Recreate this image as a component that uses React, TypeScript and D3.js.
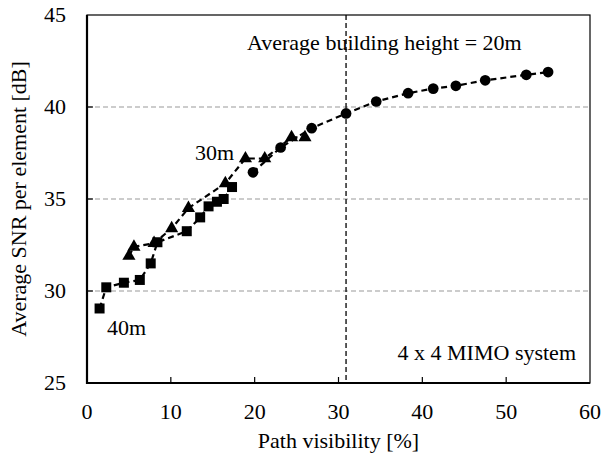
import * as d3 from "d3";
import React, { useEffect, useRef } from "react";

// 40m (squares)
const sqX = [1.5, 2.3, 4.4, 6.3, 7.6, 8.4, 11.9, 13.5, 14.5, 15.5, 16.3, 17.3];
const sqY = [29.05, 30.2, 30.45, 30.6, 31.5, 32.65, 33.25, 34.0, 34.6, 34.85, 35.0, 35.65];
// 30m (triangles)
const triX = [5.0, 5.6, 8.0, 10.1, 12.1, 16.5, 18.9, 21.2, 24.4, 26.0];
const triY = [31.9, 32.4, 32.6, 33.4, 34.5, 35.85, 37.2, 37.2, 38.35, 38.35];
// 20m (circles)
const cirX = [19.8, 23.1, 26.8, 30.9, 34.5, 38.3, 41.3, 44.0, 47.5, 52.4, 55.0];
const cirY = [36.45, 37.8, 38.85, 39.65, 40.3, 40.75, 41.0, 41.15, 41.45, 41.75, 41.9];

const xTicks = [0, 10, 20, 30, 40, 50, 60];
const yTicks = [25, 30, 35, 40, 45];
const gridY = [30, 35, 40];
const visLine = 30.9;

const W = 612;
const H = 461;
const margin = { top: 15, right: 22, bottom: 78, left: 87 };

export default function App() {
  const svgRef = useRef<SVGSVGElement>(null);

  useEffect(() => {
    if (!svgRef.current) return;
    const svg = d3.select(svgRef.current);
    svg.selectAll("*").remove();

    const iw = W - margin.left - margin.right;
    const ih = H - margin.top - margin.bottom;
    const x = d3.scaleLinear().domain([0, 60]).range([margin.left, margin.left + iw]);
    const y = d3.scaleLinear().domain([25, 45]).range([margin.top + ih, margin.top]);
    const font = "'Liberation Serif', 'Times New Roman', serif";
    const fs = "22px";

    // grid
    svg
      .append("g")
      .selectAll("line")
      .data(gridY)
      .enter()
      .append("line")
      .attr("x1", x(0))
      .attr("x2", x(60))
      .attr("y1", (d) => y(d))
      .attr("y2", (d) => y(d))
      .attr("stroke", "#999")
      .attr("stroke-width", 1.2)
      .attr("stroke-dasharray", "5,3");

    // vertical marker
    svg
      .append("line")
      .attr("x1", x(visLine))
      .attr("x2", x(visLine))
      .attr("y1", y(45))
      .attr("y2", y(25))
      .attr("stroke", "#000")
      .attr("stroke-width", 1.3)
      .attr("stroke-dasharray", "5,3");

    // frame
    svg
      .append("rect")
      .attr("x", x(0))
      .attr("y", y(45))
      .attr("width", iw)
      .attr("height", ih)
      .attr("fill", "none")
      .attr("stroke", "#000")
      .attr("stroke-width", 1.2);
    svg
      .append("path")
      .attr("d", `M${x(0)},${y(45)}V${y(25)}H${x(60)}`)
      .attr("fill", "none")
      .attr("stroke", "#000")
      .attr("stroke-width", 2.2);

    // ticks inward
    svg
      .append("g")
      .selectAll("line")
      .data(xTicks.slice(1, -1))
      .enter()
      .append("line")
      .attr("x1", (d) => x(d))
      .attr("x2", (d) => x(d))
      .attr("y1", y(25))
      .attr("y2", y(25) - 6)
      .attr("stroke", "#000")
      .attr("stroke-width", 1.2);
    svg
      .append("g")
      .selectAll("line")
      .data(yTicks.slice(1, -1))
      .enter()
      .append("line")
      .attr("x1", x(0))
      .attr("x2", x(0) + 6)
      .attr("y1", (d) => y(d))
      .attr("y2", (d) => y(d))
      .attr("stroke", "#000")
      .attr("stroke-width", 1.2);

    // tick labels
    svg
      .append("g")
      .selectAll("text")
      .data(xTicks)
      .enter()
      .append("text")
      .attr("x", (d) => x(d))
      .attr("y", y(25) + 36)
      .attr("text-anchor", "middle")
      .style("font-family", font)
      .style("font-size", fs)
      .text((d) => d);
    svg
      .append("g")
      .selectAll("text")
      .data(yTicks)
      .enter()
      .append("text")
      .attr("x", x(0) - 21)
      .attr("y", (d) => y(d) + 7)
      .attr("text-anchor", "end")
      .style("font-family", font)
      .style("font-size", fs)
      .text((d) => d);

    // axis titles
    svg
      .append("text")
      .attr("x", margin.left + iw / 2)
      .attr("y", H - 13)
      .attr("text-anchor", "middle")
      .style("font-family", font)
      .style("font-size", fs)
      .text("Path visibility [%]");
    svg
      .append("text")
      .attr("transform", `translate(26,${margin.top + ih / 2}) rotate(-90)`)
      .attr("text-anchor", "middle")
      .style("font-family", font)
      .style("font-size", fs)
      .text("Average SNR per element [dB]");

    const line = d3
      .line<[number, number]>()
      .x((d) => x(d[0]))
      .y((d) => y(d[1]));

    const series = [
      { xs: sqX, ys: sqY, shape: "square" },
      { xs: triX, ys: triY, shape: "triangle" },
      { xs: cirX, ys: cirY, shape: "circle" },
    ];

    series.forEach((s) => {
      const pts = s.xs.map((v, i) => [v, s.ys[i]] as [number, number]);
      svg
        .append("path")
        .datum(pts)
        .attr("fill", "none")
        .attr("stroke", "#000")
        .attr("stroke-width", 2.2)
        .attr("stroke-dasharray", "6,4")
        .attr("d", line);
      const sym =
        s.shape === "square" ? d3.symbolSquare : s.shape === "triangle" ? d3.symbolTriangle : d3.symbolCircle;
      const size = s.shape === "square" ? 100 : s.shape === "triangle" ? 75 : 90;
      svg
        .append("g")
        .selectAll("path")
        .data(pts)
        .enter()
        .append("path")
        .attr("transform", (d) => `translate(${x(d[0])},${y(d[1])})`)
        .attr("d", d3.symbol().type(sym).size(size)())
        .attr("fill", "#000");
    });

    // annotations
    const notes = [
      { t: "Average building height = 20m", px: 247, py: 50, a: "start" },
      { t: "30m", px: 195, py: 160, a: "start" },
      { t: "40m", px: 107, py: 335, a: "start" },
      { t: "4 x 4 MIMO system", px: 576, py: 360, a: "end" },
    ];
    svg
      .append("g")
      .selectAll("text")
      .data(notes)
      .enter()
      .append("text")
      .attr("x", (d) => d.px)
      .attr("y", (d) => d.py)
      .attr("text-anchor", (d) => d.a)
      .style("font-family", font)
      .style("font-size", fs)
      .text((d) => d.t);
  }, []);

  return (
    <div style={{ position: "absolute", left: 0, top: 0, width: W, height: H, background: "#fff" }}>
      <svg ref={svgRef} width={W} height={H} />
    </div>
  );
}
